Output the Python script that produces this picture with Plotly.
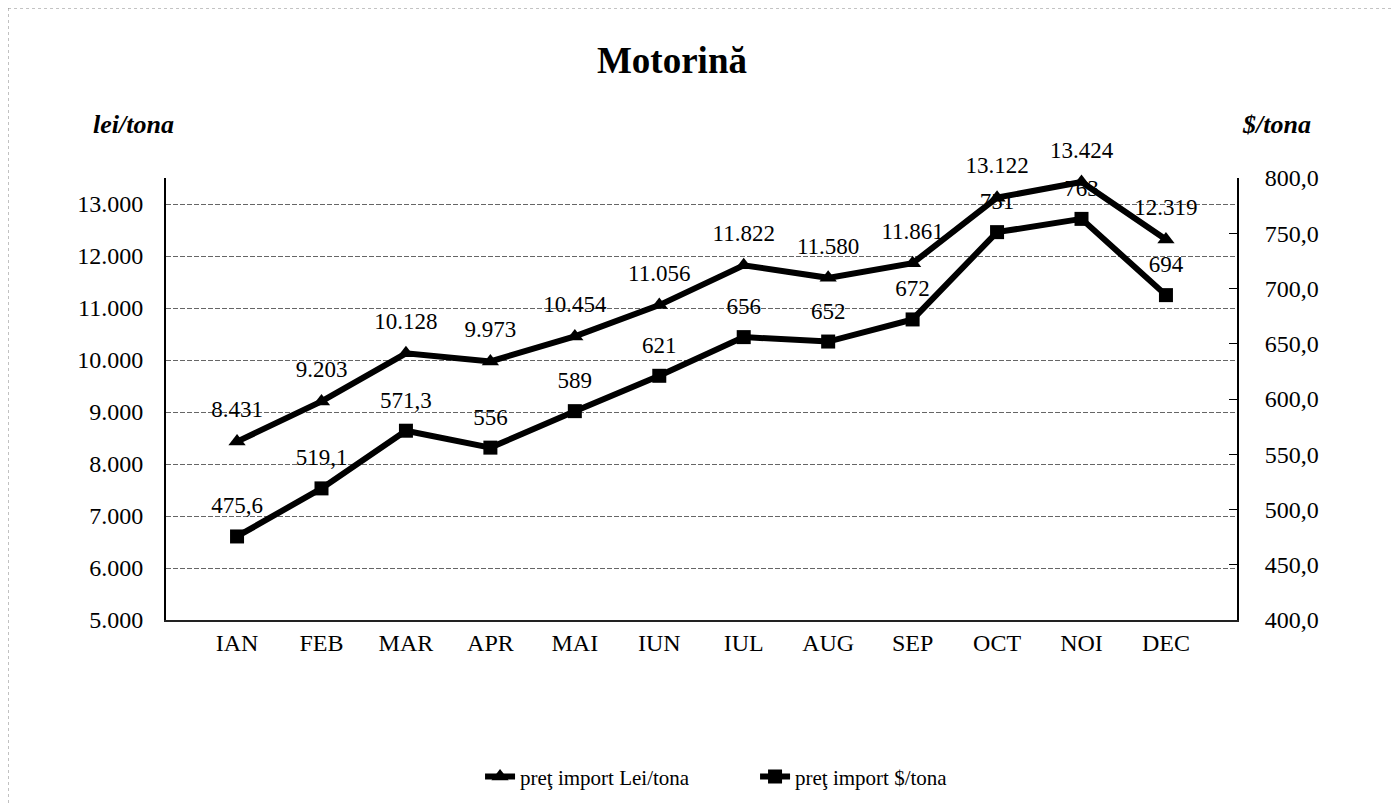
import plotly.graph_objects as go

months = ["IAN", "FEB", "MAR", "APR", "MAI", "IUN", "IUL", "AUG", "SEP", "OCT", "NOI", "DEC"]
lei_values = [8431, 9203, 10128, 9973, 10454, 11056, 11822, 11580, 11861, 13122, 13424, 12319]
usd_values = [475.6, 519.1, 571.3, 556, 589, 621, 656, 652, 672, 751, 763, 694]
lei_labels = ["8.431", "9.203", "10.128", "9.973", "10.454", "11.056", "11.822", "11.580", "11.861", "13.122", "13.424", "12.319"]
usd_labels = ["475,6", "519,1", "571,3", "556", "589", "621", "656", "652", "672", "751", "763", "694"]

FONT = "Liberation Serif, Times New Roman, serif"

fig = go.Figure()
# visible lines + markers
fig.add_trace(go.Scatter(
    x=months, y=lei_values, name="preţ import Lei/tona", mode="lines+markers",
    line=dict(color="black", width=6), marker=dict(symbol="triangle-up", size=15, color="black"),
    yaxis="y", cliponaxis=False,
))
fig.add_trace(go.Scatter(
    x=months, y=usd_values, name="preţ import $/tona", mode="lines+markers",
    line=dict(color="black", width=6), marker=dict(symbol="square", size=14, color="black"),
    yaxis="y2", cliponaxis=False,
))
# data labels (transparent large markers push text above the points)
fig.add_trace(go.Scatter(
    x=months, y=lei_values, mode="markers+text", showlegend=False, hoverinfo="skip",
    marker=dict(size=28, color="rgba(0,0,0,0)"),
    text=lei_labels, textposition="top center", textfont=dict(family=FONT, size=23, color="black"),
    yaxis="y", cliponaxis=False,
))
fig.add_trace(go.Scatter(
    x=months, y=usd_values, mode="markers+text", showlegend=False, hoverinfo="skip",
    marker=dict(size=26, color="rgba(0,0,0,0)"),
    text=usd_labels, textposition="top center", textfont=dict(family=FONT, size=23, color="black"),
    yaxis="y2", cliponaxis=False,
))

fig.update_layout(
    width=1399, height=803,
    margin=dict(l=158, r=170, t=170, b=191),
    paper_bgcolor="white", plot_bgcolor="white",
    separators=",.",
    font=dict(family=FONT, size=23, color="black"),
    title=dict(text="<b>Motorină</b>", xref="container", x=0.4746, xanchor="center",
               yref="container", y=0.935, yanchor="middle",
               font=dict(family=FONT, size=37, color="black")),
    xaxis=dict(showgrid=False, showline=True, linecolor="#222", linewidth=1.5, ticks="",
               tickfont=dict(family=FONT, size=24), ticklabelstandoff=0),
    yaxis=dict(range=[5000, 13500], dtick=1000, tickformat=",d", showgrid=True,
               gridcolor="#666", griddash="5px,2px", gridwidth=1, showline=True, linecolor="black",
               linewidth=2, zeroline=False, ticks="", tickfont=dict(family=FONT, size=24),
               ticklabelstandoff=16),
    yaxis2=dict(range=[400, 800], dtick=50, tickformat=".1f", overlaying="y", side="right",
                showgrid=False, showline=True, linecolor="black", linewidth=2, zeroline=False,
                ticks="inside", ticklen=8, tickcolor="black", tickfont=dict(family=FONT, size=24),
                ticklabelstandoff=21),
    showlegend=True,
    legend=dict(orientation="h", x=0.55, xanchor="center", y=-0.355, yanchor="middle",
                font=dict(family=FONT, size=21), bgcolor="rgba(0,0,0,0)",
                entrywidth=230, entrywidthmode="pixels"),
)

fig.add_annotation(text="<b><i>lei/tona</i></b>", xref="paper", yref="paper", x=-0.0308, y=1.122,
                   xanchor="center", yanchor="middle", showarrow=False,
                   font=dict(family=FONT, size=26, color="black"))
fig.add_annotation(text="<b><i>$/tona</i></b>", xref="paper", yref="paper", x=1.037, y=1.122,
                   xanchor="center", yanchor="middle", showarrow=False,
                   font=dict(family=FONT, size=26, color="black"))

# dotted frame around the chart
fig.add_shape(type="line", xref="paper", yref="paper", x0=-0.1475, x1=1.2, y0=1.3846, y1=1.3846,
              line=dict(color="#888", width=1, dash="dot"))
fig.add_shape(type="line", xref="paper", yref="paper", x0=-0.1475, x1=-0.1475, y0=1.3846, y1=-0.45,
              line=dict(color="#888", width=1, dash="dot"))

fig.write_html("out.html")
